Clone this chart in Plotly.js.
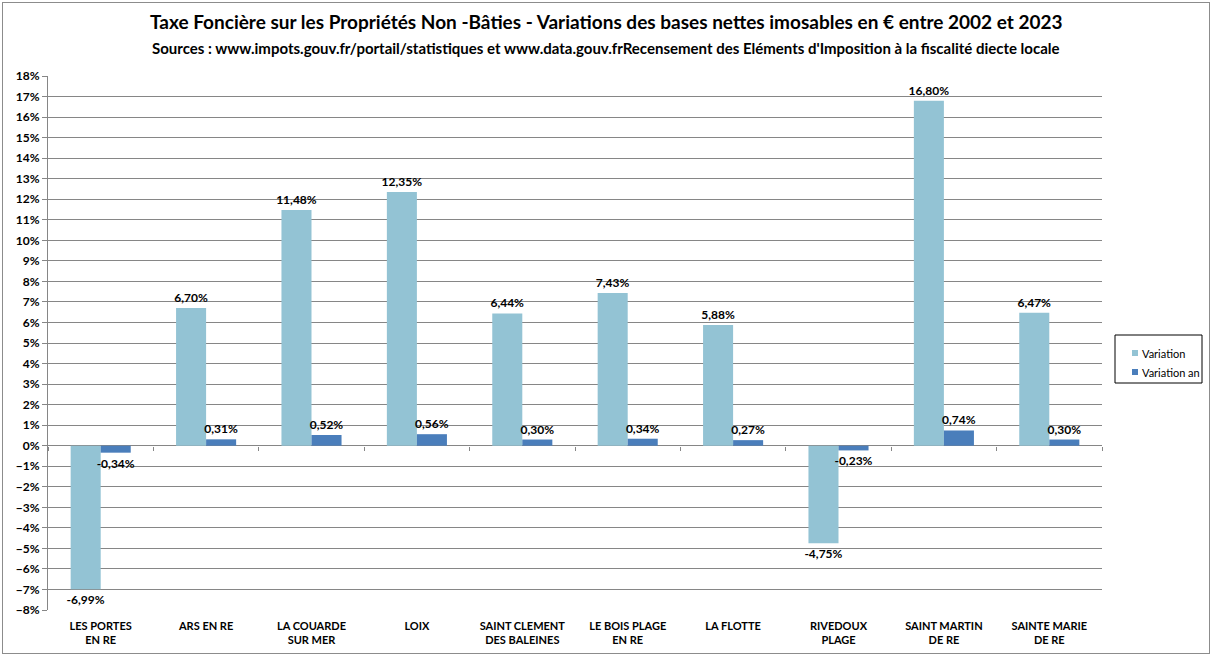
<!DOCTYPE html>
<html><head><meta charset="utf-8">
<script src="https://cdn.plot.ly/plotly-3.0.1.min.js"></script>
<style>html,body{margin:0;padding:0;background:#fff}#frame{position:absolute;left:2px;top:2px;width:1208px;height:652px;border:1px solid #8c8c8c;box-sizing:border-box}#chart{position:absolute;left:0;top:0;width:1213px;height:654px}</style>
</head><body><div id="frame"></div><div id="chart"></div>
<script>
const categories = ["LES PORTES<br>EN RE","ARS EN RE","LA COUARDE<br>SUR MER","LOIX","SAINT CLEMENT<br>DES BALEINES","LE BOIS PLAGE<br>EN RE","LA FLOTTE","RIVEDOUX<br>PLAGE","SAINT MARTIN<br>DE RE","SAINTE MARIE<br>DE RE"];
const variation = [-6.99, 6.70, 11.48, 12.35, 6.44, 7.43, 5.88, -4.75, 16.80, 6.47];
const variationAn = [-0.34, 0.31, 0.52, 0.56, 0.30, 0.34, 0.27, -0.23, 0.74, 0.30];
const seriesNames = ["Variation", "Variation an"];
const seriesColors = ['#93C3D4', '#4A7EBB'];
const titleText = 'Taxe Foncière sur les Propriétés Non -Bâties - Variations des bases nettes imosables en € entre 2002 et 2023';
const subtitleText = "Sources : www.impots.gouv.fr/portail/statistiques et www.data.gouv.frRecensement des Eléments d'Imposition à la fiscalité diecte locale";
const font = "Lato, 'Open Sans', sans-serif";

const W = 1213, H = 654, L = 48, R = 111, T = 76, B = 44;
const pw = W - L - R, ph = H - T - B;
const px = x => (x - L) / pw;      // pixel -> paper x
const py = y => (H - B - y) / ph;  // pixel -> paper y

const traces = [
  {type:'bar', name:seriesNames[0], x:categories, y:variation, marker:{color:seriesColors[0]},
   texttemplate:'%{y:.2f}%', textposition:'outside', cliponaxis:false, constraintext:'none',
   textfont:{family:font, size:12, color:'#000', weight:'bold'}, showlegend:false},
  {type:'bar', name:seriesNames[1], x:categories, y:variationAn, marker:{color:seriesColors[1]},
   texttemplate:'%{y:.2f}%', textposition:'outside', cliponaxis:false, constraintext:'none',
   textfont:{family:font, size:12, color:'#000', weight:'bold'}, showlegend:false},
  // helper trace for the category boundary ticks along the zero line
  {type:'bar', x:categories, y:categories.map(() => null), xaxis:'x2', yaxis:'y', showlegend:false, hoverinfo:'skip'}
];

const shapes = [
  {type:'rect', xref:'paper', yref:'paper', x0:px(1115), x1:px(1202), y0:py(335), y1:py(383), line:{color:'#000', width:1}, fillcolor:'#fff'}
];
const annotations = [
  {text:'<b>'+titleText+'</b>', xref:'paper', yref:'paper', x:px(606), y:py(22), xanchor:'center', yanchor:'middle', showarrow:false, font:{family:font, size:19, color:'#000'}},
  {text:'<b>'+subtitleText+'</b>', xref:'paper', yref:'paper', x:px(606), y:py(48), xanchor:'center', yanchor:'middle', showarrow:false, font:{family:font, size:15, color:'#000'}}
];
const legendRows = [353, 372];
seriesNames.forEach((n, i) => {
  shapes.push({type:'rect', xref:'paper', yref:'paper', x0:px(1132), x1:px(1138), y0:py(legendRows[i]+3), y1:py(legendRows[i]-3), line:{width:0}, fillcolor:seriesColors[i]});
  annotations.push({text:n, xref:'paper', yref:'paper', x:px(1140), y:py(legendRows[i]), xanchor:'left', yanchor:'middle', showarrow:false, font:{family:font, size:11, color:'#000'}});
});

const layout = {
  width:W, height:H,
  margin:{l:L, r:R, t:T, b:B, autoexpand:false},
  paper_bgcolor:'rgba(0,0,0,0)', plot_bgcolor:'#fff',
  separators:',.',
  font:{family:font, color:'#000'},
  barmode:'group', bargap:0.43, bargroupgap:0,
  showlegend:false,
  xaxis:{type:'category', showline:false, ticks:'', ticklabelstandoff:8, tickfont:{family:font, size:11, weight:'bold'}, showgrid:false},
  xaxis2:{type:'category', overlaying:'x', matches:'x', anchor:'free', position:8/26, side:'bottom', showline:false,
          ticks:'outside', tickson:'boundaries', ticklen:4, tickcolor:'#868686', showticklabels:false, showgrid:false},
  yaxis:{range:[-8,18], dtick:1, ticksuffix:'%', showline:true, linecolor:'#868686', linewidth:1,
         ticks:'outside', ticklen:5, tickcolor:'#868686', showgrid:true, gridcolor:'#868686', gridwidth:1,
         zeroline:true, zerolinecolor:'#868686', zerolinewidth:1,
         tickfont:{family:font, size:12, weight:'bold'}},
  shapes, annotations
};
Plotly.newPlot('chart', traces, layout, {displayModeBar:false});
</script></body></html>
